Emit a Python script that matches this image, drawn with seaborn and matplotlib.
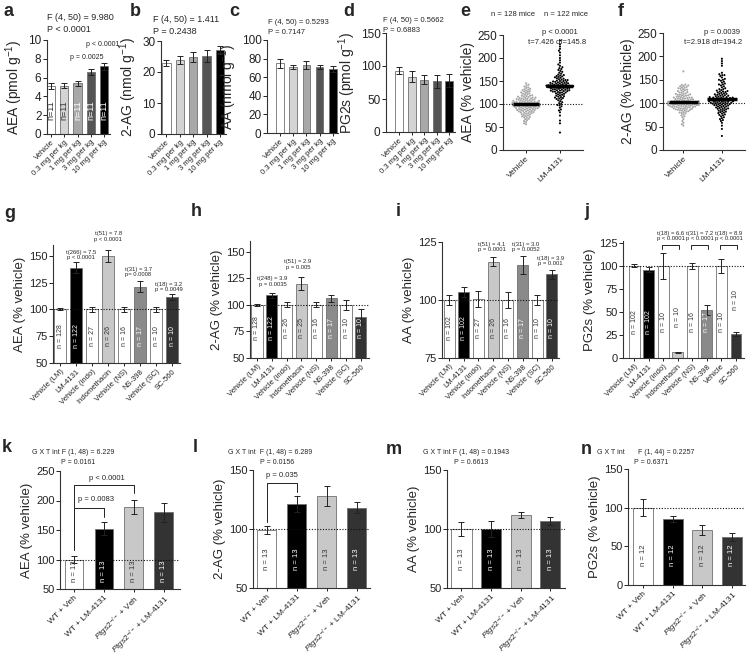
import numpy as np
import pandas as pd
import matplotlib
matplotlib.use('Agg')
import matplotlib.pyplot as plt
import seaborn as sns

sns.set_style('ticks')
plt.rcParams['font.family'] = ['Liberation Sans', 'DejaVu Sans']
plt.rcParams['mathtext.fontset'] = 'custom'
plt.rcParams['mathtext.rm'] = 'Liberation Sans'
plt.rcParams['mathtext.it'] = 'Liberation Sans:italic'
plt.rcParams['mathtext.default'] = 'regular'
plt.rcParams['axes.edgecolor'] = '#333333'
plt.rcParams['axes.linewidth'] = 0.8

# ---- data: dose response (a-d)
dose_cats = ['Vehicle', '0.3 mg per kg', '1 mg per kg', '3 mg per kg', '10 mg per kg']
dose_colors = ['white', '#d4d4d4', '#a8a8a8', '#555555', '#000000']
a_vals = [5.1, 5.15, 5.4, 6.6, 7.2]
a_errs = [0.35, 0.25, 0.25, 0.3, 0.35]
a_n = [11, 11, 11, 11, 11]
b_vals = [22.8, 24.0, 24.8, 25.2, 27.0]
b_errs = [1.0, 1.3, 1.5, 2.0, 1.3]
c_vals = [75, 71, 73, 71, 69]
c_errs = [5, 2.5, 4, 2.5, 3]
d_vals = [93, 84, 79, 77, 78]
d_errs = [5, 8, 7, 10, 10]

# ---- data: individual mice (e, f), % vehicle
e_vehicle = [56, 58, 61, 63, 65, 67, 68, 70, 71, 72, 73, 74, 75, 76, 77, 78,
             79, 80, 80, 81, 82, 82, 83, 84, 84, 85, 85, 86, 86, 87, 87, 88,
             88, 89, 89, 90, 90, 90, 91, 91, 92, 92, 92, 93, 93, 94, 94, 94,
             95, 95, 95, 96, 96, 96, 97, 97, 97, 98, 98, 98, 99, 99, 99, 100,
             100, 100, 100, 101, 101, 101, 102, 102, 102, 103, 103, 103, 104, 104, 104, 105,
             105, 105, 106, 106, 107, 107, 108, 108, 108, 109, 109, 110, 110, 111, 111, 112,
             112, 113, 113, 114, 114, 115, 116, 116, 117, 118, 118, 119, 120, 121, 122, 123,
             124, 125, 126, 127, 128, 129, 130, 131, 132, 133, 135, 136, 138, 140, 142, 145]
e_lm4131 = [38, 58, 75, 82, 88, 92, 95, 98, 100, 102, 104, 106, 108, 110, 111, 112,
            113, 114, 115, 116, 117, 118, 119, 120, 121, 122, 123, 124, 125, 125, 126, 127,
            127, 128, 128, 129, 129, 130, 130, 131, 131, 132, 132, 133, 133, 134, 134, 135,
            135, 135, 136, 136, 137, 137, 137, 138, 138, 138, 139, 139, 139, 140, 140, 140,
            141, 141, 141, 142, 142, 143, 143, 144, 144, 145, 145, 146, 146, 147, 147, 148,
            148, 149, 150, 150, 151, 152, 153, 154, 155, 156, 157, 158, 159, 160, 161, 162,
            163, 164, 166, 168, 170, 172, 174, 176, 178, 180, 183, 186, 190, 195, 200, 206,
            212, 216, 220, 225, 230, 238, 64, 86, 97, 152]
f_vehicle = [52, 55, 58, 62, 66, 70, 72, 74, 76, 78, 79, 80, 81, 82, 83, 84,
             85, 85, 86, 87, 87, 88, 88, 89, 89, 90, 90, 91, 91, 92, 92, 93,
             93, 93, 94, 94, 94, 95, 95, 95, 96, 96, 96, 97, 97, 97, 98, 98,
             98, 98, 99, 99, 99, 99, 100, 100, 100, 100, 100, 101, 101, 101, 101, 102,
             102, 102, 102, 103, 103, 103, 104, 104, 104, 105, 105, 105, 106, 106, 107, 107,
             108, 108, 109, 109, 110, 110, 111, 111, 112, 112, 113, 114, 114, 115, 116, 117,
             117, 118, 119, 120, 121, 122, 123, 124, 125, 126, 127, 128, 129, 130, 131, 132,
             133, 134, 135, 136, 137, 138, 139, 140, 118, 112, 96, 92, 86, 104, 120, 168]
f_lm4131 = [30, 45, 52, 58, 62, 66, 70, 72, 74, 76, 78, 80, 82, 83, 84, 85,
            86, 87, 88, 89, 90, 91, 92, 93, 94, 95, 95, 96, 97, 98, 98, 99,
            99, 100, 100, 101, 101, 102, 102, 103, 103, 104, 104, 105, 105, 106, 106, 107,
            107, 108, 108, 109, 109, 110, 110, 111, 111, 112, 112, 113, 113, 114, 115, 116,
            116, 117, 118, 119, 120, 121, 122, 123, 124, 125, 126, 127, 128, 130, 132, 134,
            136, 138, 140, 142, 144, 146, 148, 150, 152, 155, 158, 160, 162, 165, 180, 185,
            190, 195, 64, 68, 75, 79, 81, 90, 93, 97, 100, 103, 106, 109, 112, 118,
            120, 125, 130, 140, 150, 160, 88, 96, 104, 114]

# ---- data: COX inhibitors (g-j)
drug_cats = ['Vehicle (LM)', 'LM-4131', 'Vehicle (indo)', 'Indomethacin',
             'Vehicle (NS)', 'NS-398', 'Vehicle (SC)', 'SC-560']
j_cats = ['Vehicle (LM)', 'LM-4131', 'Vehicle (indo)', 'Indomethacin',
          'Vehicle (NS)', 'NS-398', 'Vehicle', 'SC-560']
drug_colors = ['white', 'black', 'white', '#c8c8c8', 'white', '#8a8a8a', 'white', '#333333']
g_vals = [100, 139, 100, 150, 100, 121, 100, 111.5]
g_errs = [1, 5, 2.5, 5.5, 2.5, 5, 2, 2.5]
g_n = [128, 122, 27, 26, 16, 17, 10, 10]
h_vals = [100, 109, 100, 120, 100, 106, 100, 89]
h_errs = [1, 2.5, 2.5, 6, 2.5, 3.5, 5, 7]
h_n = [128, 122, 26, 25, 16, 17, 10, 10]
i_vals = [100, 103.5, 100.5, 116.5, 100, 115, 100, 111]
i_errs = [2, 2, 3.5, 2, 3.5, 4, 2, 2]
i_n = [102, 102, 27, 26, 16, 17, 10, 10]
j_vals = [100, 96, 100, 6, 100, 52, 100, 26]
j_errs = [1.5, 2.5, 14, 1, 3.5, 5.5, 8, 2]
j_n = [102, 102, 10, 10, 16, 17, 10, 10]

# ---- data: genotype x treatment (k-n)
geno_cats = ['WT + Veh', 'WT + LM-4131', r'$\it{Ptgs2}^{-/-}$ + Veh', r'$\it{Ptgs2}^{-/-}$ + LM-4131']
geno_colors = ['white', 'black', '#c8c8c8', '#333333']
k_vals = [100, 152, 189, 180]
k_errs = [6, 11, 12, 16]
l_vals = [99, 121, 128, 118]
l_errs = [3.5, 7, 8.5, 4.5]
m_vals = [100, 100, 112, 107]
m_errs = [6, 7, 2.3, 3.4]
n_vals = [100, 85, 71, 62]
n_errs = [11, 4, 6.5, 5]

W, H = 751, 657
fig = plt.figure(figsize=(W / 100, H / 100), dpi=100)


def add_ax(l, t, r, b):
    return fig.add_axes([l / W, 1 - b / H, (r - l) / W, (b - t) / H])


def ftext(x, y, s, **kw):
    kw.setdefault('va', 'center')
    fig.text(x / W, 1 - y / H, s, **kw)


def style(ax, tick_size):
    ax.tick_params(axis='y', labelsize=tick_size, length=3, width=0.7, pad=1, colors='#222222')
    ax.tick_params(axis='x', length=2.5, width=0.7, pad=1, colors='#222222')
    sns.despine(ax=ax)


def bar_panel(ax, cats, vals, errs, colors, width, ylim, yticks, ylabel, xlim,
              cat_size, tick_size=8, label_size=9.5):
    sns.barplot(x=cats, y=vals, hue=cats, palette=colors, width=width,
                edgecolor='#707070', linewidth=0.6, legend=False, ax=ax)
    ax.errorbar(np.arange(len(vals)), vals, yerr=errs, fmt='none', ecolor='#222222',
                elinewidth=0.7, capsize=2, capthick=0.7, zorder=5)
    ax.set_xlim(*xlim)
    ax.set_ylim(*ylim)
    ax.set_yticks(yticks)
    ax.set_xticks(np.arange(len(cats)))
    ax.set_xticklabels(cats, rotation=45, ha='right', rotation_mode='anchor', fontsize=cat_size)
    ax.set_ylabel(ylabel, fontsize=label_size, labelpad=2)
    ax.set_xlabel('')
    style(ax, tick_size)


def n_labels(ax, ns, ys, colors, size, fmt='n = {}'):
    for i, (n, y, c) in enumerate(zip(ns, ys, colors)):
        ax.text(i, y, fmt.format(n), rotation=90, ha='center', va='center',
                fontsize=size, color=c, zorder=6)


def dotted(ax):
    ax.axhline(100, color='#111111', ls=(0, (1, 1.5)), lw=0.8, zorder=4)


def bracket(ax, x0, x1, y, y0, y1):
    ax.plot([x0, x0, x1, x1], [y0, y, y, y1], color='#222222', lw=0.7,
            clip_on=False, zorder=6)


DK, WH = '#333333', 'white'

# ---------------- row 1
ax = add_ax(47, 40, 110, 134)
bar_panel(ax, dose_cats, a_vals, a_errs, dose_colors, 0.62, (0, 10), [0, 2, 4, 6, 8, 10],
          r'AEA (pmol g$^{-1}$)', (-0.3, 4.45), 5.5, 8.5, 10)
n_labels(ax, a_n, [2.5] * 5, [DK, DK, WH, WH, WH], 6.5, fmt='n={}')
ax.text(2.7, 8.1, 'p = 0.0025', fontsize=5, ha='center', va='center')
ax.text(3.9, 9.5, 'p < 0.0001', fontsize=5, ha='center', va='center')
ftext(47, 17, 'F (4, 50) = 9.980', fontsize=6.5)
ftext(47, 29, 'P < 0.0001', fontsize=6.5)

ax = add_ax(161, 41, 226, 134)
bar_panel(ax, dose_cats, b_vals, b_errs, dose_colors, 0.62, (0, 30), [0, 10, 20, 30],
          r'2-AG (nmol g$^{-1}$)', (-0.4, 4.45), 5.5, 8.5, 10)
ftext(153, 20, 'F (4, 50) = 1.411', fontsize=6.5)
ftext(153, 32, 'P = 0.2438', fontsize=6.5)

ax = add_ax(267, 40, 338, 133)
bar_panel(ax, dose_cats, c_vals, c_errs, dose_colors, 0.58, (0, 100), [0, 20, 40, 60, 80, 100],
          r'AA (nmol g$^{-1}$)', (-1.0, 4.4), 5.5, 8.5, 10)
ftext(268, 23, 'F (4, 50) = 0.5293', fontsize=5.5)
ftext(268, 33, 'P = 0.7147', fontsize=5.5)

ax = add_ax(386, 33, 455, 132)
bar_panel(ax, dose_cats, d_vals, d_errs, dose_colors, 0.62, (0, 150), [0, 50, 100, 150],
          r'PG2s (pmol g$^{-1}$)', (-1.05, 4.45), 5.5, 8.5, 10)
ftext(383, 20, 'F (4, 50) = 0.5662', fontsize=5.5)
ftext(383, 30, 'P = 0.6883', fontsize=5.5)


def scatter_panel(ax, veh, lm, ylabel, xlim):
    groups = ['Vehicle'] * len(veh) + ['LM-4131'] * len(lm)
    df = pd.DataFrame({'group': groups, 'value': list(veh) + list(lm)})
    dotted(ax)
    sns.swarmplot(data=df, x='group', y='value', hue='group', palette=['#a6a6a6', 'black'],
                  size=1.5, linewidth=0, legend=False, warn_thresh=1, ax=ax, zorder=3)
    ax.hlines([np.mean(veh)], -0.38, 0.38, color='black', lw=2.5, zorder=5)
    ax.hlines([np.mean(lm)], 0.62, 1.38, color='black', lw=2.5, zorder=5)
    ax.set_xlim(*xlim)
    ax.set_ylim(0, 250)
    ax.set_yticks([0, 50, 100, 150, 200, 250])
    ax.set_xticks([0, 1])
    ax.set_xticklabels(['Vehicle', 'LM-4131'], rotation=45, ha='right',
                       rotation_mode='anchor', fontsize=6)
    ax.set_xlabel('')
    ax.set_ylabel(ylabel, fontsize=10, labelpad=2)
    style(ax, 8.5)


ax = add_ax(503, 35, 583, 150)
scatter_panel(ax, e_vehicle, e_lm4131, 'AEA (% vehicle)', (-0.68, 1.68))
ftext(513, 15, 'n = 128 mice', fontsize=5.5, ha='center')
ftext(566, 15, 'n = 122 mice', fontsize=5.5, ha='center')
ftext(560, 33, 'p < 0.0001', fontsize=5.5, ha='center')
ftext(557, 43, 't=7.426 df=145.8', fontsize=5.5, ha='center')

ax = add_ax(663, 33, 745, 150)
scatter_panel(ax, f_vehicle, f_lm4131, '2-AG (% vehicle)', (-0.53, 1.6))
ftext(722, 32, 'p = 0.0039', fontsize=5.5, ha='center')
ftext(713, 43, 't=2.918 df=194.2', fontsize=5.5, ha='center')

# ---------------- row 2
drug_txt = [DK, WH, DK, DK, DK, WH, DK, WH]


def notes(ax, items, size=4.2):
    for x, y, s in items:
        ax.text(x, y, s, fontsize=size, ha='center', va='bottom', linespacing=1.1,
                clip_on=False, zorder=7)


ax = add_ax(53, 245, 180, 363)
bar_panel(ax, drug_cats, g_vals, g_errs, drug_colors, 0.75, (50, 160), [50, 75, 100, 125, 150],
          'AEA (% vehicle)', (-0.45, 7.5), 5.5)
dotted(ax)
n_labels(ax, g_n, [75] * 8, drug_txt, 5)
notes(ax, [(1.3, 146, 't(266) = 7.5\np < 0.0001'), (3.0, 163, 't(51) = 7.8\np < 0.0001'),
           (4.9, 130, 't(31) = 3.7\np= 0.0008'), (6.8, 116, 't(18) = 3.2\np = 0.0049')])

ax = add_ax(250, 241, 369, 358)
bar_panel(ax, drug_cats, h_vals, h_errs, drug_colors, 0.75, (50, 160), [50, 75, 100, 125, 150],
          '2-AG (% vehicle)', (-0.47, 7.55), 5.5)
dotted(ax)
n_labels(ax, h_n, [78] * 8, drug_txt, 5)
notes(ax, [(1.05, 117, 't(248) = 3.9\np = 0.0035'), (2.75, 133, 't(51) = 2.9\np = 0.005')])

ax = add_ax(442, 242, 559, 358)
bar_panel(ax, drug_cats, i_vals, i_errs, drug_colors, 0.75, (75, 125), [75, 100, 125],
          'AA (% vehicle)', (-0.48, 7.48), 5.5)
dotted(ax)
n_labels(ax, i_n, [88] * 8, drug_txt, 5)
notes(ax, [(2.9, 120.5, 't(51) = 4.1\np = 0.0001'), (5.2, 120.5, 't(31) = 3.0\np = 0.0052'),
           (6.9, 114.5, 't(18) = 3.9\np = 0.001')])

ax = add_ax(623, 241, 744, 358)
bar_panel(ax, j_cats, j_vals, j_errs, drug_colors, 0.75, (0, 127), [0, 25, 50, 75, 100, 125],
          'PG2s (% vehicle)', (-0.76, 7.55), 5.5)
dotted(ax)
n_labels(ax, j_n, [39, 39, 39, 44, 39, 39, 39, 63], [DK, WH, DK, DK, DK, WH, DK, DK], 5)
for xv, xd in [(2, 3), (4, 5), (6, 7)]:
    bracket(ax, xv - 0.1, xd + 0.1, 123, 118, 118)
notes(ax, [(2.5, 127, 't(18) = 6.6\np < 0.0001'), (4.5, 127, 't(31) = 7.2\np < 0.0001'),
           (6.5, 127, 't(18) = 8.9\np < 0.0001')])

# ---------------- row 3
geno_txt = [DK, WH, DK, WH]

ax = add_ax(60, 471, 180, 589)
bar_panel(ax, geno_cats, k_vals, k_errs, geno_colors, 0.62, (50, 250), [50, 100, 150, 200, 250],
          'AEA (% vehicle)', (-0.47, 3.55), 6)
dotted(ax)
n_labels(ax, [13] * 4, [80] * 4, geno_txt, 5.5)
bracket(ax, 0, 1, 187, 116, 172)
bracket(ax, 0, 2, 226, 116, 213)
ax.text(0.75, 196, 'p = 0.0083', fontsize=5.5, ha='center', va='bottom')
ax.text(1.1, 231, 'p < 0.0001', fontsize=5.5, ha='center', va='bottom')
ftext(73, 453, 'G X T int F (1, 48) = 6.229', fontsize=5, ha='center')
ftext(78, 463, 'P = 0.0161', fontsize=5, ha='center')

ax = add_ax(253, 470, 370, 588)
bar_panel(ax, geno_cats, l_vals, l_errs, geno_colors, 0.64, (50, 150), [50, 100, 150],
          '2-AG (% vehicle)', (-0.46, 3.44), 6)
dotted(ax)
n_labels(ax, [13] * 4, [74] * 4, geno_txt, 5.5)
bracket(ax, 0, 1, 139, 106, 131)
ax.text(0.5, 142, 'p = 0.035', fontsize=5.5, ha='center', va='bottom')
ftext(270, 453, 'G X T int  F (1, 48) = 6.289', fontsize=5, ha='center')
ftext(277, 463, 'P = 0.0156', fontsize=5, ha='center')

ax = add_ax(447, 470, 565, 588)
bar_panel(ax, geno_cats, m_vals, m_errs, geno_colors, 0.68, (50, 150), [50, 100, 150],
          'AA (% vehicle)', (-0.49, 3.5), 6)
dotted(ax)
n_labels(ax, [13] * 4, [74] * 4, geno_txt, 5.5)
ftext(466, 452, 'G X T int F (1, 48) = 0.1943', fontsize=5, ha='center')
ftext(471, 463, 'P = 0.6613', fontsize=5, ha='center')

ax = add_ax(628, 469, 745, 585)
bar_panel(ax, geno_cats, n_vals, n_errs, geno_colors, 0.68, (0, 150), [0, 50, 100, 150],
          'PG2s (% vehicle)', (-0.51, 3.44), 6)
dotted(ax)
n_labels(ax, [12] * 4, [38] * 4, geno_txt, 5.5)
ftext(597, 452, 'G X T int', fontsize=5)
ftext(666, 452, 'F (1, 44) = 0.2257', fontsize=5, ha='center')
ftext(651, 462, 'P = 0.6371', fontsize=5, ha='center')

# ---------------- panel letters
for s, x, y in [('a', 8, 11), ('b', 135, 11), ('c', 234, 12), ('d', 349, 12), ('e', 465, 11),
                ('f', 621, 11), ('g', 10, 213), ('h', 196, 212), ('i', 398, 212), ('j', 587, 212),
                ('k', 7, 448), ('l', 195, 447), ('m', 394, 449), ('n', 586, 449)]:
    ftext(x, y, s, fontsize=13, fontweight='bold', ha='center')

fig.savefig('out.png', dpi=100)
